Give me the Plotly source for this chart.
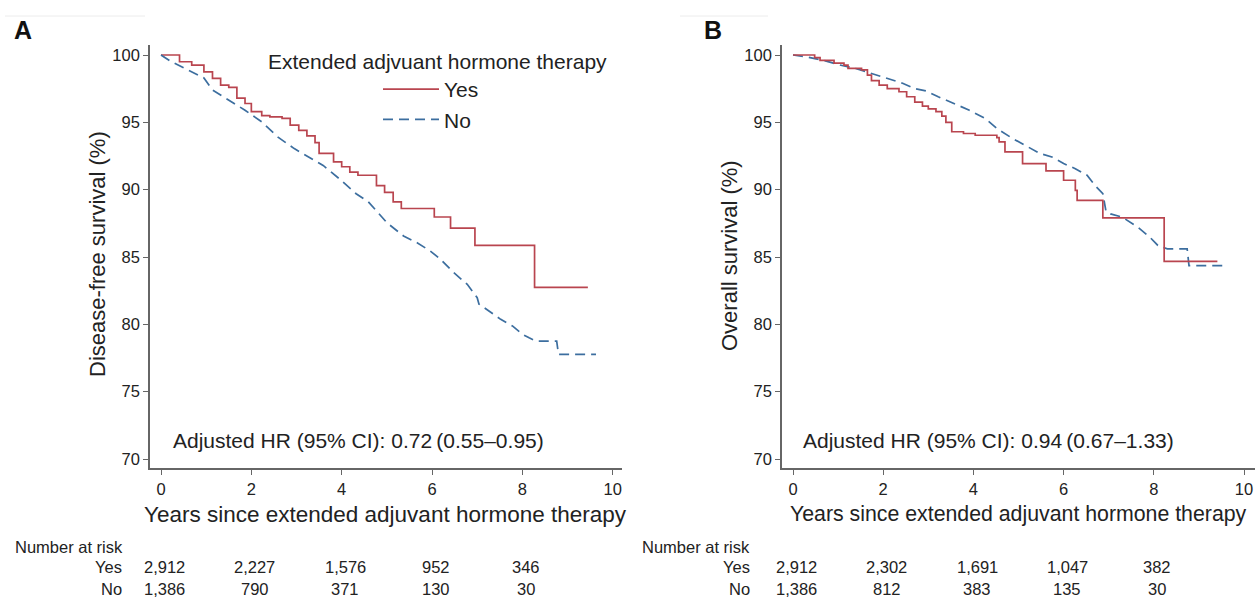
import plotly.graph_objects as go

# ---------------- data ----------------
groups = ["Yes", "No"]
x_ticks = [0, 2, 4, 6, 8, 10]
y_ticks = [70, 75, 80, 85, 90, 95, 100]

# Panel A: disease-free survival
a_yes_t = [0, 0.41, 0.68, 0.95, 1.14, 1.32, 1.5, 1.68, 1.86, 2.0, 2.23, 2.41, 2.68, 2.86, 3.05, 3.23,
           3.41, 3.5, 3.82, 4.0, 4.18, 4.36, 4.77, 4.95, 5.14, 5.32, 6.05, 6.41, 6.95, 8.27, 9.45]
a_yes_s = [100, 99.5, 99.25, 98.75, 98.26, 97.77, 97.6, 96.8, 96.4, 95.8, 95.5, 95.4, 95.3, 94.8, 94.4, 94.0,
           93.5, 92.7, 92.06, 91.7, 91.3, 91.07, 90.3, 89.8, 89.1, 88.6, 87.97, 87.15, 85.86, 82.75, 82.75]
a_no_t = [0, 0.23, 0.59, 0.95, 1.14, 1.5, 1.86, 2.23, 2.59, 2.95, 3.32, 3.59, 3.95, 4.32, 4.59, 5.0,
          5.37, 5.67, 5.96, 6.19, 6.48, 6.78, 7.0, 7.04, 7.26, 7.52, 7.78, 8.0, 8.15, 8.3, 8.76, 8.8, 9.63]
a_no_s = [100, 99.5, 98.9, 98.3, 97.4, 96.65, 95.9, 95.04, 93.9, 93.05, 92.3, 91.8, 90.8, 89.7, 89.1, 87.55,
          86.56, 86.06, 85.45, 84.83, 83.84, 82.97, 81.98, 81.5, 80.99, 80.37, 79.88, 79.26, 79.0, 78.76, 78.76,
          77.77, 77.77]

# Panel B: overall survival
b_yes_t = [0, 0.48, 0.6, 0.91, 1.13, 1.22, 1.52, 1.65, 1.74, 1.91, 2.09, 2.35, 2.52, 2.7, 2.87, 3.0, 3.17,
           3.3, 3.39, 3.52, 3.78, 4.04, 4.52, 4.57, 4.7, 5.09, 5.61, 6.0, 6.26, 6.3, 6.87, 8.23, 9.41]
b_yes_s = [100, 99.8, 99.6, 99.4, 99.25, 99.0, 98.9, 98.5, 98.1, 97.77, 97.5, 97.27, 96.9, 96.5, 96.2, 96.0, 95.8,
           95.46, 95.0, 94.3, 94.17, 94.04, 93.87, 93.55, 92.8, 91.94, 91.39, 90.7, 89.95, 89.2, 87.9, 84.67, 84.67]
b_no_t = [0, 0.35, 0.7, 1.04, 1.39, 1.74, 2.09, 2.43, 2.7, 2.96, 3.22, 3.57, 3.91, 4.26, 4.52, 4.87, 5.22,
          5.48, 5.74, 6.0, 6.26, 6.52, 6.7, 6.87, 6.94, 7.04, 7.3, 7.65, 7.91, 8.09, 8.3, 8.74, 8.78, 9.6]
b_no_s = [100, 99.83, 99.58, 99.26, 99.0, 98.64, 98.26, 97.9, 97.5, 97.32, 96.9, 96.4, 95.9, 95.29, 94.54, 93.8, 93.18,
          92.68, 92.43, 91.94, 91.56, 91.07, 90.3, 89.7, 88.4, 88.2, 87.96, 87.2, 86.48, 85.86, 85.6, 85.6, 84.36,
          84.36]

risk_times = [0, 2, 4, 6, 8]
a_risk_yes = ["2,912", "2,227", "1,576", "952", "346"]
a_risk_no = ["1,386", "790", "371", "130", "30"]
b_risk_yes = ["2,912", "2,302", "1,691", "1,047", "382"]
b_risk_no = ["1,386", "812", "383", "135", "30"]

hr_a = "Adjusted HR (95% CI): 0.72\u2009(0.55\u20130.95)"
hr_b = "Adjusted HR (95% CI): 0.94\u2009(0.67\u20131.33)"
x_title = "Years since extended adjuvant hormone therapy"

# ---------------- style ----------------
W, H = 1255, 597
RED = "#b9454f"
BLUE = "#3c6e9f"
FONT = "Liberation Sans, Arial, sans-serif"
TXT = "#222222"
DASH = "10px,6px"


def px(xp):
    return xp / W


def py(yp):
    return 1 - yp / H


fig = go.Figure()

fig.add_trace(go.Scatter(x=a_yes_t, y=a_yes_s, mode="lines", line_shape="hv", name="Yes",
                         line=dict(color=RED, width=1.7), xaxis="x", yaxis="y", legendgroup="yes"))
fig.add_trace(go.Scatter(x=a_no_t, y=a_no_s, mode="lines", name="No",
                         line=dict(color=BLUE, width=1.7, dash=DASH), xaxis="x", yaxis="y",
                         legendgroup="no"))
fig.add_trace(go.Scatter(x=b_no_t, y=b_no_s, mode="lines", name="No", showlegend=False,
                         line=dict(color=BLUE, width=1.7, dash=DASH), xaxis="x2", yaxis="y2",
                         legendgroup="no"))
fig.add_trace(go.Scatter(x=b_yes_t, y=b_yes_s, mode="lines", line_shape="hv", name="Yes", showlegend=False,
                         line=dict(color=RED, width=1.7), xaxis="x2", yaxis="y2", legendgroup="yes"))

ydom = [py(468), py(45)]
yrange = [70 - 9 / 13.467, 100 + 10 / 13.467]

axis_common = dict(showline=True, linecolor="#666666", linewidth=1.6, mirror=False, showgrid=False,
                   zeroline=False, ticks="outside", ticklen=5, tickcolor="#666666", tickwidth=1.2,
                   tickfont=dict(family=FONT, size=16.5, color=TXT), fixedrange=True)

fig.update_layout(
    width=W, height=H,
    margin=dict(l=0, r=0, t=0, b=0),
    paper_bgcolor="white", plot_bgcolor="white",
    font=dict(family=FONT, color=TXT),
    xaxis=dict(domain=[px(150), px(622)], range=[(150 - 161) / 45.17, (622 - 161) / 45.17],
               tickvals=x_ticks, anchor="y", **axis_common),
    yaxis=dict(domain=ydom, range=yrange, tickvals=y_ticks, anchor="x", **axis_common),
    xaxis2=dict(domain=[px(782), px(1255)], range=[(782 - 793) / 45.1, (1255 - 793) / 45.1],
                tickvals=x_ticks, anchor="y2", **axis_common),
    yaxis2=dict(domain=ydom, range=yrange, tickvals=y_ticks, anchor="x2", **axis_common),
    showlegend=True,
    legend=dict(x=px(378), y=py(69), xanchor="left", yanchor="top", bgcolor="rgba(0,0,0,0)",
                font=dict(family=FONT, size=21, color=TXT), itemwidth=56, tracegroupgap=0,
                traceorder="normal"),
)

ann = []
# panel letters
ann.append(dict(text="<b>A</b>", x=px(12), y=py(30), xanchor="left", yanchor="middle",
                font=dict(size=25, family=FONT, color="#111")))
ann.append(dict(text="<b>B</b>", x=px(702), y=py(30), xanchor="left", yanchor="middle",
                font=dict(size=25, family=FONT, color="#111")))
# legend title
ann.append(dict(text="Extended adjvuant hormone therapy", x=px(437), y=py(62), xanchor="center",
                yanchor="middle", font=dict(size=21, family=FONT, color=TXT)))
# axis titles
ann.append(dict(text=x_title, x=px(385), y=py(514), xanchor="center", yanchor="middle",
                font=dict(size=22.5, family=FONT, color=TXT)))
ann.append(dict(text=x_title, x=px(1018), y=py(514), xanchor="center", yanchor="middle",
                font=dict(size=21.3, family=FONT, color=TXT)))
ann.append(dict(text="Disease-free survival (%)", x=px(98), y=py(254), textangle=-90,
                xanchor="center", yanchor="middle", font=dict(size=22, family=FONT, color=TXT)))
ann.append(dict(text="Overall survival (%)", x=px(729), y=py(256), textangle=-90,
                xanchor="center", yanchor="middle", font=dict(size=22, family=FONT, color=TXT)))
# HR texts
ann.append(dict(text=hr_a, x=px(171), y=py(440), xanchor="left", yanchor="middle",
                font=dict(size=21, family=FONT, color=TXT)))
ann.append(dict(text=hr_b, x=px(801), y=py(440), xanchor="left", yanchor="middle",
                font=dict(size=21, family=FONT, color=TXT)))

# number at risk tables
for xr, nar_x, lab_x, ryes, rno in [("x", 13, 124, a_risk_yes, a_risk_no),
                                    ("x2", 640, 752, b_risk_yes, b_risk_no)]:
    ann.append(dict(text="Number at risk", x=px(nar_x), y=py(547), xanchor="left", yanchor="middle",
                    font=dict(size=16.5, family=FONT, color=TXT)))
    for lab, yy in [(groups[0], 567), (groups[1], 589)]:
        ann.append(dict(text=lab, x=px(lab_x), y=py(yy), xanchor="right", yanchor="middle",
                        font=dict(size=16.5, family=FONT, color=TXT)))
    for t, vy, vn in zip(risk_times, ryes, rno):
        ann.append(dict(text=vy, x=t + 0.08, xref=xr, y=py(567), yref="paper", xanchor="center",
                        yanchor="middle", font=dict(size=16.5, family=FONT, color=TXT)))
        ann.append(dict(text=vn, x=t + 0.08, xref=xr, y=py(589), yref="paper", xanchor="center",
                        yanchor="middle", font=dict(size=16.5, family=FONT, color=TXT)))

for a in ann:
    a.setdefault("xref", "paper")
    a.setdefault("yref", "paper")
    a["showarrow"] = False
fig.update_layout(annotations=ann)

# faint header rules
fig.add_shape(type="line", xref="paper", yref="paper", x0=px(5), x1=px(145), y0=py(16), y1=py(16),
              line=dict(color="#ececec", width=1))
fig.add_shape(type="line", xref="paper", yref="paper", x0=px(680), x1=px(768), y0=py(16), y1=py(16),
              line=dict(color="#ececec", width=1))

fig.write_html("out.html", config={"displayModeBar": False},
               post_script="document.body.style.margin='0px';document.body.style.overflow='hidden';")
